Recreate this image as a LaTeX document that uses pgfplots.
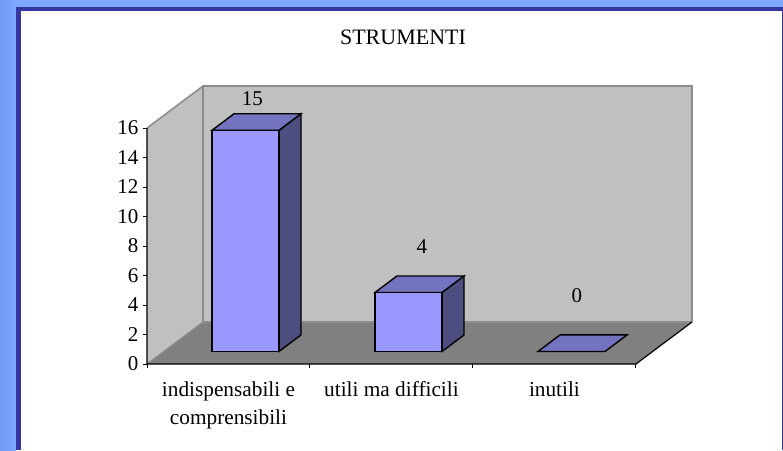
\documentclass[border=0pt]{standalone}
\usepackage{pgfplots}
\pgfplotsset{compat=1.18}
\usepackage{fontspec}
\setmainfont{Liberation Serif}
\definecolor{bgblue}{HTML}{7FA8FF}
\definecolor{bgblueD}{HTML}{6E9BF5}
\definecolor{frameblue}{HTML}{3636A0}
\definecolor{wall}{HTML}{C0C0C0}
\definecolor{wallline}{HTML}{8C8C8C}
\definecolor{floorc}{HTML}{808080}
\definecolor{barfront}{HTML}{9999FF}
\definecolor{bartop}{HTML}{7373BF}
\definecolor{barside}{HTML}{4D4D80}
\begin{document}
\begin{tikzpicture}[x=1pt,y=1pt]
\useasboundingbox (0,0) rectangle (783,450);
\fill[bgblue] (0,0) rectangle (783,450);
\shade[left color=bgblueD,right color=bgblue] (0,0) rectangle (16,450);
\fill[frameblue] (16,0) rectangle (783,443);
\fill[white] (20.5,0) rectangle (781.5,438.5);
\node[anchor=center,font=\fontsize{22}{26}\selectfont] at (403,413) {STRUMENTI};
\begin{axis}[
  at={(147pt,86pt)},anchor=south west,scale only axis,
  width=545pt,height=278pt,
  xmin=0,xmax=3.344,ymin=0,ymax=18.85,
  clip=false,
  axis line style={draw=none},
  tick pos=left,tick align=outside,
  major tick length=4pt,
  every tick/.style={black,line width=1pt},
  /pgf/number format/assume math mode=true,
  ytick={0,2,4,6,8,10,12,14,16},
  xtick={0,1,2,3},xticklabels={},
  extra x ticks={0.5,1.5,2.5},
  extra x tick labels={{indispensabili e\\comprensibili},{utili ma difficili},{inutili}},
  extra x tick style={major tick length=0pt,tick style={draw=none},
    xticklabel style={align=center,yshift=-14pt,anchor=north,font=\fontsize{21.3}{28}\selectfont}},
  yticklabel style={font=\fontsize{21}{24}\selectfont,xshift=-1pt},
]
% walls and floor
\addplot[fill=wall,draw=none] coordinates {(0,0)(0,16)(0.3436,18.85)(0.3436,2.847)} --cycle;
\addplot[fill=wall,draw=none] coordinates {(0.3436,2.847)(3.344,2.847)(3.344,18.85)(0.3436,18.85)} --cycle;
\addplot[fill=floorc,draw=none] coordinates {(0,0)(3,0)(3.344,2.847)(0.3436,2.847)} --cycle;
\addplot[wallline,line width=1.6pt] coordinates {(0,16)(0.3436,18.85)(3.344,18.85)(3.344,2.847)};
\addplot[wallline,line width=1.6pt] coordinates {(0.3436,18.85)(0.3436,2.847)(3.344,2.847)};
\addplot[wallline,line width=1.2pt] coordinates {(0,0)(0.3436,2.847)};
\addplot[black,line width=1.2pt] coordinates {(0,16)(0,0)(3,0)(3.344,2.847)};
% bar 1, value 15
\addplot[fill=barside,draw=black,line width=1.4pt] coordinates {(0.810,0.85)(0.945,1.97)(0.945,16.97)(0.810,15.85)} --cycle;
\addplot[fill=bartop,draw=black,line width=1.4pt] coordinates {(0.399,15.85)(0.810,15.85)(0.945,16.97)(0.534,16.97)} --cycle;
\addplot[fill=barfront,draw=black,line width=1.4pt] coordinates {(0.399,0.85)(0.810,0.85)(0.810,15.85)(0.399,15.85)} --cycle;
% bar 2, value 4
\addplot[fill=barside,draw=black,line width=1.4pt] coordinates {(1.810,0.85)(1.945,1.97)(1.945,5.97)(1.810,4.85)} --cycle;
\addplot[fill=bartop,draw=black,line width=1.4pt] coordinates {(1.399,4.85)(1.810,4.85)(1.945,5.97)(1.534,5.97)} --cycle;
\addplot[fill=barfront,draw=black,line width=1.4pt] coordinates {(1.399,0.85)(1.810,0.85)(1.810,4.85)(1.399,4.85)} --cycle;
% bar 3, value 0
\addplot[fill=bartop,draw=black,line width=1.4pt] coordinates {(2.399,0.85)(2.810,0.85)(2.945,1.97)(2.534,1.97)} --cycle;
% value labels
\addplot[draw=none,mark=none,point meta=explicit symbolic,
  nodes near coords,
  nodes near coords style={anchor=center,text=black,font=\fontsize{21}{24}\selectfont}]
  coordinates {(0.647,17.97)[15] (1.687,7.93)[4] (2.638,4.61)[0]};
\end{axis}
\end{tikzpicture}
\end{document}
